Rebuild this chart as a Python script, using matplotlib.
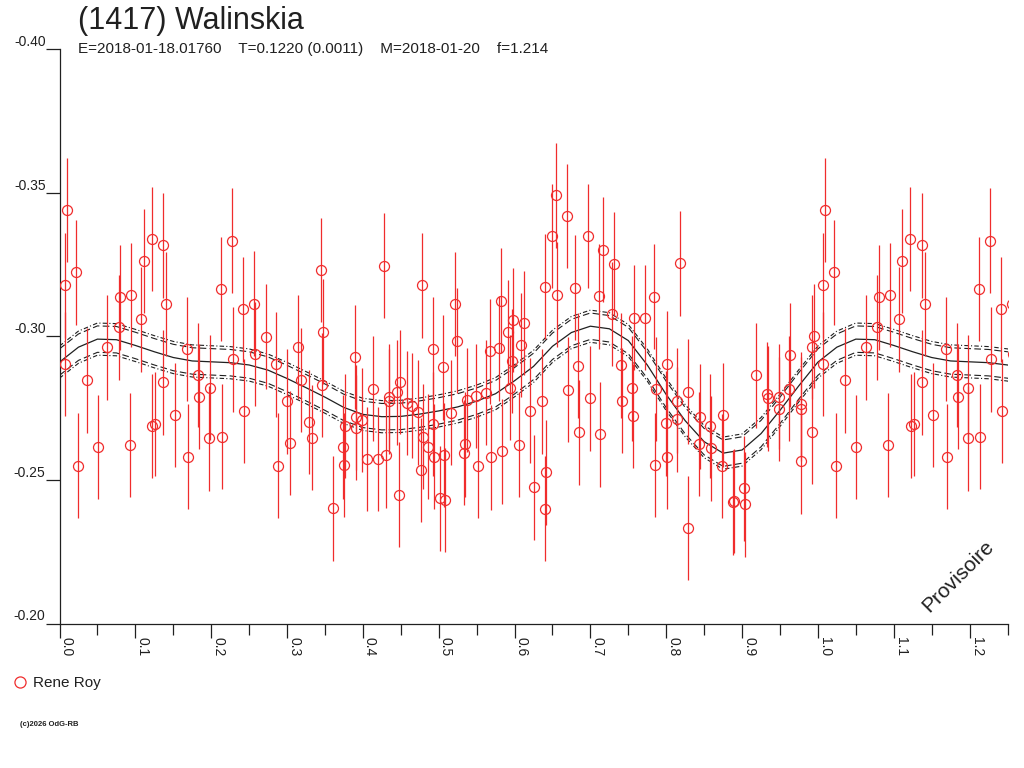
import matplotlib
matplotlib.use("Agg")
import matplotlib.pyplot as plt
from matplotlib.lines import Line2D
import numpy as np

plt.rcParams['font.family'] = ['Liberation Sans', 'DejaVu Sans']

phase = [
    0.0099, 0.0073, 0.0073, 0.0213, 0.0363, 0.0244, 0.0503, 0.0631, 0.0802, 0.0785,
    0.0947, 0.0930, 0.1075, 0.1114, 0.1220, 0.1369, 0.1409, 0.1369, 0.1224, 0.1264,
    0.1519, 0.1686, 0.1699, 0.1831, 0.1844, 0.1985, 0.1976, 0.2125, 0.2138, 0.2270,
    0.2284, 0.2420, 0.2429,
    0.2565, 0.2578, 0.2723, 0.2850, 0.2886, 0.3004, 0.3035, 0.3150, 0.3184, 0.3294,
    0.3325, 0.3448, 0.3475, 0.3461, 0.3611, 0.3901, 0.3734, 0.3756, 0.3760, 0.3910,
    0.3910, 0.3989, 0.4055, 0.4129, 0.4195, 0.4284, 0.4310, 0.4341, 0.4349, 0.4455,
    0.4490, 0.4481, 0.4578, 0.4644, 0.4723, 0.4776, 0.4771, 0.4793, 0.4859, 0.4921,
    0.4921, 0.4934,
    0.5062, 0.5017, 0.5083, 0.5065, 0.5158, 0.5211, 0.5237, 0.5351, 0.5334, 0.5369,
    0.5492, 0.5518, 0.5624, 0.5676, 0.5690, 0.5795, 0.5817, 0.5830, 0.5909, 0.5975,
    0.5971, 0.5945, 0.6085, 0.6125, 0.6063, 0.6208, 0.6257, 0.6358, 0.6406, 0.6415,
    0.6397, 0.6542, 0.6498, 0.6560, 0.6692, 0.6709, 0.6797, 0.6837, 0.6854, 0.6969,
    0.7000, 0.7109, 0.7162, 0.7131, 0.7281, 0.7307, 0.7408, 0.7421,
    0.7571, 0.7716, 0.7553, 0.7567, 0.7843, 0.7861, 0.7857, 0.8006, 0.7993, 0.8006,
    0.8178, 0.8143, 0.8147, 0.8287, 0.8292, 0.8441, 0.8432, 0.8582, 0.8590, 0.8745,
    0.8736, 0.8885, 0.8898, 0.9026, 0.9043, 0.9189, 0.9333, 0.9338, 0.9483, 0.9492,
    0.9628, 0.9624, 0.9778, 0.9778, 0.9773, 0.9923, 0.9927, 0.9949,
]
mag = [
    -0.3439, -0.3177, -0.2903, -0.3222, -0.2846, -0.2550, -0.2615, -0.2961, -0.3135, -0.3031,
    -0.3144, -0.2621, -0.3059, -0.3262, -0.3338, -0.3316, -0.3113, -0.2839, -0.2688, -0.2694,
    -0.2726, -0.2956, -0.2581, -0.2865, -0.2790, -0.2821, -0.2645, -0.3164, -0.2651, -0.3333,
    -0.2920, -0.3094, -0.2740,
    -0.3114, -0.2938, -0.2999, -0.2902, -0.2550, -0.2773, -0.2629, -0.2962, -0.2848, -0.2701,
    -0.2647, -0.3231, -0.3016, -0.2831, -0.2401, -0.2928, -0.2614, -0.2552, -0.2688, -0.2718,
    -0.2682, -0.2709, -0.2572, -0.2818, -0.2572, -0.3246, -0.2585, -0.2790, -0.2773, -0.2805,
    -0.2840, -0.2449, -0.2767, -0.2758, -0.2735, -0.3177, -0.2534, -0.2651, -0.2616, -0.2956,
    -0.2694, -0.2581,
    -0.2892, -0.2436, -0.2430, -0.2587, -0.2734, -0.3113, -0.2985, -0.2624, -0.2595, -0.2778,
    -0.2792, -0.2549, -0.2804, -0.2947, -0.2578, -0.2958, -0.3124, -0.2599, -0.3014, -0.3056,
    -0.2914, -0.2821, -0.2970, -0.3046, -0.2623, -0.2741, -0.2474, -0.2773, -0.3173, -0.2526,
    -0.2400, -0.3490, -0.3349, -0.3145, -0.3418, -0.2814, -0.3169, -0.2898, -0.2665, -0.3349,
    -0.2784, -0.3139, -0.3302, -0.2658, -0.3077, -0.3251, -0.2899, -0.2776,
    -0.3065, -0.3065, -0.2819, -0.2723, -0.3138, -0.2816, -0.2552, -0.2905, -0.2697, -0.2581,
    -0.3254, -0.2776, -0.2711, -0.2807, -0.2332, -0.2720, -0.2625, -0.2688, -0.2610, -0.2726,
    -0.2549, -0.2422, -0.2427, -0.2470, -0.2415, -0.2864, -0.2798, -0.2784, -0.2790, -0.2746,
    -0.2934, -0.2818, -0.2763, -0.2746, -0.2564, -0.2667, -0.2963, -0.3001,
]
mag_err = 0.0182

# Fitted light curve sampled every 0.025 in phase
fit_phase = [i * 0.025 for i in range(41)]
fit_mag = [
    -0.2910, -0.2962, -0.2990, -0.2988, -0.2968, -0.2946, -0.2926, -0.2914, -0.2911, -0.2908,
    -0.2900, -0.2882, -0.2853, -0.2821, -0.2788, -0.2752, -0.2728, -0.2720, -0.2721, -0.2729,
    -0.2740, -0.2754, -0.2774, -0.2800, -0.2845, -0.2895, -0.2965, -0.3013, -0.3035, -0.3026,
    -0.2985, -0.2900, -0.2797, -0.2706, -0.2633, -0.2593, -0.2604, -0.2661, -0.2742, -0.2828,
    -0.2910,
]
band_dash = 0.0046
band_dashdot = 0.0056

title = "(1417) Walinskia"
subtitle = "E=2018-01-18.01760    T=0.1220 (0.0011)    M=2018-01-20    f=1.214"
observer = "Rene Roy"
red = '#f02c2c'

phase = np.array(phase)
mag = np.array(mag)
fit_phase = np.array(fit_phase)
fit_mag = np.array(fit_mag)

# repeat the first quarter of the cycle after phase 1
rep = phase < 0.26
ph_all = np.concatenate([phase, phase[rep] + 1])
mag_all = np.concatenate([mag, mag[rep]])
fp = np.concatenate([fit_phase, fit_phase[1:12] + 1])
fm = np.concatenate([fit_mag, fit_mag[1:12]])

fig = plt.figure(figsize=(10.24, 7.68), dpi=100)
ax = fig.add_axes([59.5 / 1024, 1 - 623.5 / 768, 948 / 1024, 574.5 / 768])

ax.plot(fp, fm, color='#202020', lw=0.9, zorder=2)
for s in (-1, 1):
    ax.plot(fp, fm + s * band_dash, color='#202020', lw=0.8, ls=(0, (6, 3)), zorder=2)
    ax.plot(fp, fm + s * band_dashdot, color='#202020', lw=0.8, ls=(0, (4, 2, 1, 2)), zorder=2)

ax.errorbar(ph_all, mag_all, yerr=mag_err, fmt='o', ms=7.2, mfc='none', mec=red, mew=0.9,
            ecolor=red, elinewidth=0.9, capsize=0, zorder=3)

ax.set_xlim(0, 1.25)
ax.set_ylim(-0.20, -0.40)
ax.set_xticks(np.arange(0, 1.21, 0.1))
ax.set_xticks(np.arange(0.05, 1.26, 0.1), minor=True)
ax.set_xticklabels([f"{v:.1f}" for v in np.arange(0, 1.21, 0.1)])
ax.set_yticks([-0.40, -0.35, -0.30, -0.25, -0.20])
ax.set_yticklabels([f"{v:.2f}" for v in [-0.40, -0.35, -0.30, -0.25, -0.20]])

for sp in ('top', 'right'):
    ax.spines[sp].set_visible(False)
for sp in ('left', 'bottom'):
    ax.spines[sp].set_linewidth(0.9)
    ax.spines[sp].set_color('#202020')

ax.tick_params(axis='x', which='major', direction='out', length=10, width=0.9,
               labelsize=10, pad=0, colors='#202020')
ax.tick_params(axis='x', which='minor', direction='out', length=8, width=0.9, colors='#202020')
ax.tick_params(axis='y', direction='out', length=10, width=0.9, labelsize=10, pad=0,
               colors='#202020')
plt.setp(ax.get_xticklabels(), rotation=-90, ha='left')
plt.setp(ax.get_yticklabels(), va='bottom')

fig.text(78 / 1024, 1 - 21 / 768, title, fontsize=22, va='center', color='#202020')
fig.text(78 / 1024, 1 - 49 / 768, subtitle, fontsize=11, va='center', color='#202020')
fig.text(958 / 1024, 1 - 576 / 768, "Provisoire", fontsize=15, rotation=45,
         ha='center', va='center', color='#202020')
fig.text(20 / 1024, 1 - 724 / 768, "(c)2026 OdG-RB", fontsize=5.5, va='center',
         color='#202020', fontweight='bold')

proxy = Line2D([], [], ls='none', marker='o', ms=8, mfc='none', mec=red, mew=0.9)
fig.legend(handles=[proxy], labels=[observer], loc='center left',
           bbox_to_anchor=(12 / 1024, 1 - 683 / 768), frameon=False, fontsize=11,
           handlelength=1.0, handletextpad=0.4, borderpad=0, borderaxespad=0,
           labelcolor='#202020')

fig.savefig("out.png", dpi=100)
